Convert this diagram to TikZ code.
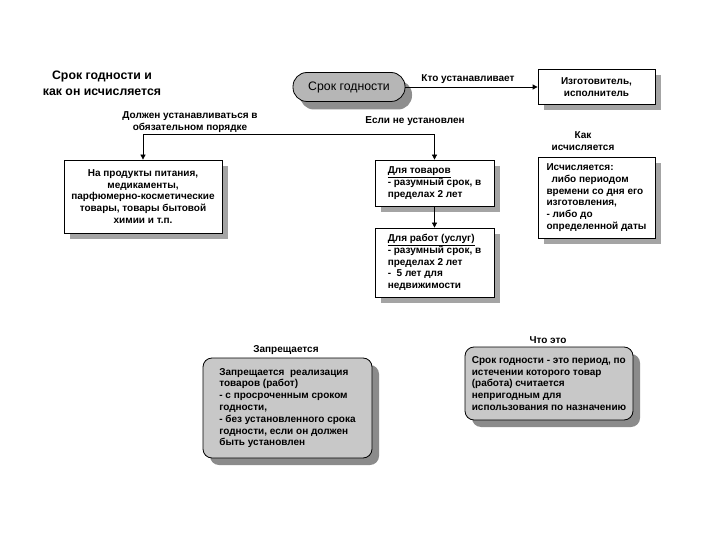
\documentclass[tikz,border=0pt]{standalone}
\usepackage{fontspec}
\setmainfont{Liberation Sans}
\usetikzlibrary{arrows.meta,shadows}
\definecolor{shadowgray}{HTML}{A4A4A4}
\definecolor{boxgray}{HTML}{C8C8C8}
\definecolor{ellgray}{HTML}{B6B6B6}
\definecolor{darkshadow}{HTML}{8E8E8E}
\tikzset{
  txt/.style={font=\bfseries\fontsize{10}{11.8}\selectfont},
  wbox/.style={txt, draw, line width=0.8pt, fill=white, inner sep=0pt,
    drop shadow={shadow xshift=6pt, shadow yshift=-6pt, fill=shadowgray, opacity=1}},
  gbox/.style={txt, draw, line width=0.8pt, fill=boxgray, rounded corners=9pt, inner sep=0pt,
    drop shadow={shadow xshift=7pt, shadow yshift=-7pt, fill=shadowgray!85!black, opacity=1}},
  ellbox/.style={draw, line width=0.8pt, fill=ellgray, rounded corners=14pt, inner sep=0pt,
    font=\fontsize{12.3}{14}\selectfont,
    drop shadow={shadow xshift=7pt, shadow yshift=-8pt, fill=darkshadow, opacity=1}},
  lbl/.style={txt, align=center, inner sep=0pt},
  arr/.style={line width=0.8pt, -{Triangle[length=5pt,width=5pt]}},
}
\begin{document}
\begin{tikzpicture}[x=1pt,y=-1pt]
\useasboundingbox (0,0) rectangle (720,540);
\node[align=center, font=\bfseries\fontsize{12.3}{16}\selectfont, inner sep=0pt] (title) at (102,83)
  {Срок годности и\\как он исчисляется};
\node[ellbox, minimum width=112pt, minimum height=29pt] (srok) at (349,87) {Срок годности};
\node[wbox, minimum width=117pt, minimum height=35pt, align=center] (izg) at (596.5,87)
  {Изготовитель,\\исполнитель};
\node[wbox, minimum width=158pt, minimum height=73pt, align=center] (prod) at (143,196.5)
  {На продукты питания,\\медикаменты,\\парфюмерно-косметические\\товары, товары бытовой\\химии и т.п.};
\node[wbox, minimum width=119pt, minimum height=46pt, align=left] (tov) at (434.5,183)
  {\underline{Для товаров}\\- разумный срок, в\\пределах 2 лет};
\node[wbox, minimum width=119pt, minimum height=69pt, align=left] (rab) at (434.5,262.5)
  {\underline{Для работ (услуг)}\\- разумный срок, в\\пределах 2 лет\\- \ 5 лет для\\недвижимости};
\node[wbox, minimum width=117pt, minimum height=81pt, align=left] (isch) at (596.5,197.5)
  {Исчисляется:\\\hspace*{0.5em}либо периодом\\времени со дня его\\изготовления,\\- либо до\\определенной даты};
\node[gbox, minimum width=169pt, minimum height=100pt, align=left] (zap) at (287.5,408)
  {Запрещается \ реализация\\товаров (работ)\\- с просроченным сроком\\годности,\\- без установленного срока\\годности, если он должен\\быть установлен};
\node[gbox, minimum width=168pt, minimum height=73pt, align=left] (chto) at (549,383.5)
  {Срок годности - это период, по\\истечении которого товар\\(работа) считается\\непригодным для\\использования по назначению};
\node[lbl] (lkto) at (468,79) {Кто устанавливает};
\node[lbl] (ldol) at (190,122) {Должен устанавливаться в\\обязательном порядке};
\node[lbl] (lesli) at (415,121) {Если не установлен};
\node[lbl] (lkak) at (583,141) {Как\\исчисляется};
\node[lbl] (lzap) at (286,350) {Запрещается};
\node[lbl] (lchto) at (548,340) {Что это};
\coordinate (h) at (0,134);
\draw[arr] (srok.east) -- (izg.west);
\draw[line width=0.8pt, {Triangle[length=5pt,width=5pt]}-{Triangle[length=5pt,width=5pt]}]
  (prod.north) -- (prod.north |- h) -- (tov.north |- h) -- (tov.north);
\draw[arr] (tov.south) -- (rab.north);
\end{tikzpicture}
\end{document}
